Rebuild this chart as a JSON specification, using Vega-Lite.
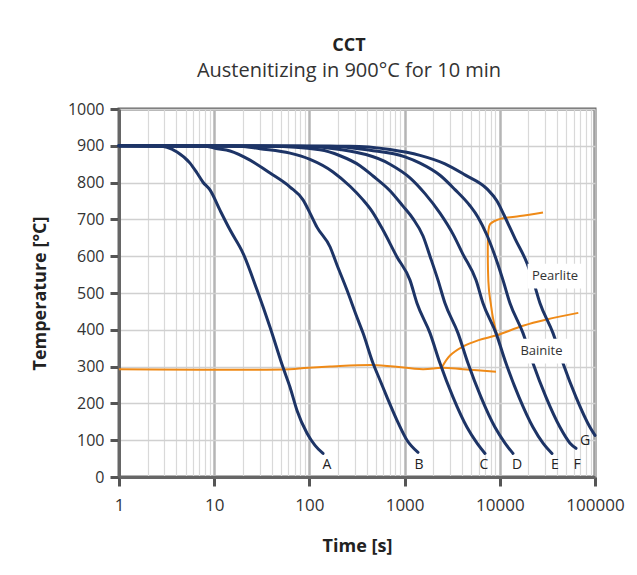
{
  "$schema": "https://vega.github.io/schema/vega-lite/v6.json",
  "width": 476,
  "height": 368,
  "autosize": {"type": "none"},
  "padding": {"left": 119, "top": 109, "right": 42, "bottom": 98},
  "background": "white",
  "config": {
    "font": "Open Sans",
    "view": {"stroke": "#666666", "strokeWidth": 3}
  },
  "title": {
    "text": "CCT",
    "subtitle": "Austenitizing in 900°C for 10 min",
    "anchor": "middle",
    "frame": "group",
    "dx": -8,
    "font": "Open Sans",
    "subtitleFont": "Open Sans",
    "fontSize": 18,
    "fontWeight": "bold",
    "subtitleFontSize": 20,
    "color": "#222222",
    "subtitleColor": "#333333",
    "offset": 20,
    "subtitlePadding": 6
  },
  "datasets": {
    "curves": [
      {"curve": "A", "t": 1, "T": 900}, {"curve": "A", "t": 2.7, "T": 899}, {"curve": "A", "t": 3.19, "T": 896}, {"curve": "A", "t": 4.07, "T": 883}, {"curve": "A", "t": 5.57, "T": 853}, {"curve": "A", "t": 6.6, "T": 826}, {"curve": "A", "t": 7.63, "T": 801}, {"curve": "A", "t": 9.03, "T": 780}, {"curve": "A", "t": 11.5, "T": 725}, {"curve": "A", "t": 14.7, "T": 671}, {"curve": "A", "t": 20.1, "T": 608}, {"curve": "A", "t": 28.2, "T": 508}, {"curve": "A", "t": 38.6, "T": 407}, {"curve": "A", "t": 52.8, "T": 298}, {"curve": "A", "t": 62.6, "T": 244}, {"curve": "A", "t": 74.1, "T": 181}, {"curve": "A", "t": 94.4, "T": 119}, {"curve": "A", "t": 114.5, "T": 86}, {"curve": "A", "t": 139, "T": 64},
      {"curve": "B", "t": 1, "T": 900}, {"curve": "B", "t": 8, "T": 899}, {"curve": "B", "t": 10.2, "T": 893}, {"curve": "B", "t": 14.7, "T": 886}, {"curve": "B", "t": 23.8, "T": 861}, {"curve": "B", "t": 38.6, "T": 826}, {"curve": "B", "t": 62.6, "T": 788}, {"curve": "B", "t": 85.7, "T": 753}, {"curve": "B", "t": 101.5, "T": 717}, {"curve": "B", "t": 120, "T": 679}, {"curve": "B", "t": 165, "T": 625}, {"curve": "B", "t": 195, "T": 576}, {"curve": "B", "t": 248, "T": 508}, {"curve": "B", "t": 316, "T": 434}, {"curve": "B", "t": 366, "T": 391}, {"curve": "B", "t": 466, "T": 309}, {"curve": "B", "t": 552, "T": 263}, {"curve": "B", "t": 653, "T": 217}, {"curve": "B", "t": 832, "T": 154}, {"curve": "B", "t": 1060, "T": 100}, {"curve": "B", "t": 1383, "T": 67},
      {"curve": "C", "t": 1, "T": 900}, {"curve": "C", "t": 18.7, "T": 899}, {"curve": "C", "t": 30.3, "T": 892}, {"curve": "C", "t": 62.6, "T": 880}, {"curve": "C", "t": 101.5, "T": 863}, {"curve": "C", "t": 177, "T": 829}, {"curve": "C", "t": 267, "T": 790}, {"curve": "C", "t": 366, "T": 753}, {"curve": "C", "t": 455, "T": 722}, {"curve": "C", "t": 593, "T": 671}, {"curve": "C", "t": 832, "T": 598}, {"curve": "C", "t": 1139, "T": 535}, {"curve": "C", "t": 1350, "T": 472}, {"curve": "C", "t": 1849, "T": 391}, {"curve": "C", "t": 2354, "T": 309}, {"curve": "C", "t": 3224, "T": 217}, {"curve": "C", "t": 4524, "T": 135}, {"curve": "C", "t": 5761, "T": 92}, {"curve": "C", "t": 6991, "T": 64},
      {"curve": "D", "t": 1, "T": 900}, {"curve": "D", "t": 38.6, "T": 899}, {"curve": "D", "t": 129, "T": 889}, {"curve": "D", "t": 210, "T": 873}, {"curve": "D", "t": 340, "T": 846}, {"curve": "D", "t": 466, "T": 818}, {"curve": "D", "t": 702, "T": 778}, {"curve": "D", "t": 962, "T": 736}, {"curve": "D", "t": 1225, "T": 702}, {"curve": "D", "t": 1561, "T": 655}, {"curve": "D", "t": 1849, "T": 600}, {"curve": "D", "t": 2243, "T": 535}, {"curve": "D", "t": 2657, "T": 472}, {"curve": "D", "t": 3638, "T": 391}, {"curve": "D", "t": 4634, "T": 309}, {"curve": "D", "t": 6346, "T": 217}, {"curve": "D", "t": 8905, "T": 135}, {"curve": "D", "t": 11340, "T": 92}, {"curve": "D", "t": 13760, "T": 64},
      {"curve": "E", "t": 1, "T": 900}, {"curve": "E", "t": 79.7, "T": 899}, {"curve": "E", "t": 210, "T": 890}, {"curve": "E", "t": 702, "T": 850}, {"curve": "E", "t": 1139, "T": 813}, {"curve": "E", "t": 1638, "T": 770}, {"curve": "E", "t": 2354, "T": 717}, {"curve": "E", "t": 3224, "T": 660}, {"curve": "E", "t": 4106, "T": 605}, {"curve": "E", "t": 5623, "T": 535}, {"curve": "E", "t": 6661, "T": 472}, {"curve": "E", "t": 9122, "T": 391}, {"curve": "E", "t": 11617, "T": 309}, {"curve": "E", "t": 15910, "T": 217}, {"curve": "E", "t": 22320, "T": 135}, {"curve": "E", "t": 28430, "T": 92}, {"curve": "E", "t": 35340, "T": 64},
      {"curve": "F", "t": 1, "T": 900}, {"curve": "F", "t": 165, "T": 899}, {"curve": "F", "t": 433, "T": 888}, {"curve": "F", "t": 1010, "T": 870}, {"curve": "F", "t": 1451, "T": 853}, {"curve": "F", "t": 2354, "T": 820}, {"curve": "F", "t": 3383, "T": 781}, {"curve": "F", "t": 4864, "T": 737}, {"curve": "F", "t": 5902, "T": 706}, {"curve": "F", "t": 7337, "T": 657}, {"curve": "F", "t": 9346, "T": 585}, {"curve": "F", "t": 10803, "T": 535}, {"curve": "F", "t": 12796, "T": 472}, {"curve": "F", "t": 17530, "T": 391}, {"curve": "F", "t": 22320, "T": 309}, {"curve": "F", "t": 30570, "T": 217}, {"curve": "F", "t": 42900, "T": 135}, {"curve": "F", "t": 54630, "T": 92}, {"curve": "F", "t": 63160, "T": 78},
      {"curve": "G", "t": 1, "T": 900}, {"curve": "G", "t": 267, "T": 899}, {"curve": "G", "t": 702, "T": 890}, {"curve": "G", "t": 1451, "T": 874}, {"curve": "G", "t": 2657, "T": 851}, {"curve": "G", "t": 4310, "T": 821}, {"curve": "G", "t": 7337, "T": 783}, {"curve": "G", "t": 9346, "T": 750}, {"curve": "G", "t": 11068, "T": 712}, {"curve": "G", "t": 14446, "T": 648}, {"curve": "G", "t": 19310, "T": 581}, {"curve": "G", "t": 22320, "T": 535}, {"curve": "G", "t": 26440, "T": 472}, {"curve": "G", "t": 36220, "T": 391}, {"curve": "G", "t": 46120, "T": 309}, {"curve": "G", "t": 63160, "T": 217}, {"curve": "G", "t": 88620, "T": 135}, {"curve": "G", "t": 100000, "T": 113}
    ],
    "phases": [
      {"line": "Ms", "t": 1, "T": 293}, {"line": "Ms", "t": 62.6, "T": 293}, {"line": "Ms", "t": 88, "T": 296}, {"line": "Ms", "t": 165, "T": 300}, {"line": "Ms", "t": 513, "T": 304}, {"line": "Ms", "t": 1561, "T": 293}, {"line": "Ms", "t": 2453, "T": 297}, {"line": "Ms", "t": 4106, "T": 293}, {"line": "Ms", "t": 9122, "T": 286},
      {"line": "Bs", "t": 2453, "T": 297}, {"line": "Bs", "t": 3000, "T": 330}, {"line": "Bs", "t": 4137, "T": 355}, {"line": "Bs", "t": 6000, "T": 372}, {"line": "Bs", "t": 9277, "T": 385}, {"line": "Bs", "t": 17530, "T": 411}, {"line": "Bs", "t": 31090, "T": 428}, {"line": "Bs", "t": 66780, "T": 446},
      {"line": "Ps", "t": 9300, "T": 388}, {"line": "Ps", "t": 8483, "T": 432}, {"line": "Ps", "t": 8082, "T": 467}, {"line": "Ps", "t": 7700, "T": 508}, {"line": "Ps", "t": 7516, "T": 562}, {"line": "Ps", "t": 7607, "T": 671}, {"line": "Ps", "t": 7900, "T": 687}, {"line": "Ps", "t": 8700, "T": 695}, {"line": "Ps", "t": 10803, "T": 703}, {"line": "Ps", "t": 16300, "T": 709}, {"line": "Ps", "t": 28430, "T": 719}
    ],
    "labels": [
      {"label": "A", "t": 153, "T": 32}, {"label": "B", "t": 1417, "T": 32}, {"label": "C", "t": 6823, "T": 32}, {"label": "D", "t": 15160, "T": 32}, {"label": "E", "t": 37990, "T": 32}, {"label": "F", "t": 64700, "T": 32}, {"label": "G", "t": 78520, "T": 97}
    ],
    "regions": [
      {"name": "Pearlite", "t": 38000, "T": 546},
      {"name": "Bainite", "t": 27420, "T": 342}
    ]
  },
  "encoding": {
    "x": {
      "field": "t", "type": "quantitative",
      "scale": {"type": "log", "domain": [1, 100000]},
      "axis": {
        "values": [1,2,3,4,5,6,7,8,9,10,20,30,40,50,60,70,80,90,100,200,300,400,500,600,700,800,900,1000,2000,3000,4000,5000,6000,7000,8000,9000,10000,20000,30000,40000,50000,60000,70000,80000,90000,100000],
        "labelExpr": "indexof([1,10,100,1000,10000,100000], datum.value) >= 0 ? format(datum.value, 'd') : ''",
        "labelOverlap": false,
        "labelFlush": false,
        "gridColor": {"condition": {"test": "indexof([1,10,100,1000,10000,100000], datum.value) >= 0", "value": "#b5b5b5"}, "value": "#d9d9d9"},
        "gridWidth": {"condition": {"test": "indexof([1,10,100,1000,10000,100000], datum.value) >= 0", "value": 2.5}, "value": 1.2},
        "tickOpacity": {"condition": {"test": "indexof([1,10,100,1000,10000,100000], datum.value) >= 0", "value": 1}, "value": 0},
        "tickSize": 9, "tickWidth": 3, "tickColor": "#555555",
        "domainColor": "#666666", "domainWidth": 3,
        "labelFontSize": 17, "labelColor": "#333333", "labelPadding": 11,
        "title": "Time [s]", "titleFontSize": 18, "titleFontWeight": "bold", "titleColor": "#222222", "titlePadding": 24
      }
    },
    "y": {
      "field": "T", "type": "quantitative",
      "scale": {"domain": [0, 1000], "nice": false},
      "axis": {
        "values": [0,100,200,300,400,500,600,700,800,900,1000],
        "format": "d",
        "labelOverlap": false,
        "tickSize": 9, "tickWidth": 3, "tickColor": "#555555",
        "gridColor": "#d0d0d0", "gridWidth": 1.5,
        "domainColor": "#666666", "domainWidth": 3,
        "labelFontSize": 16, "labelColor": "#333333", "labelPadding": 6,
        "title": "Temperature [°C]", "titleFontSize": 18, "titleFontWeight": "bold", "titleColor": "#222222", "titlePadding": 18
      }
    }
  },
  "layer": [
    {
      "data": {"name": "phases"},
      "mark": {"type": "line", "color": "#ef8a17", "strokeWidth": 2, "interpolate": "catmull-rom"},
      "encoding": {
        "detail": {"field": "line"},
        "order": {"value": null}
      }
    },
    {
      "data": {"name": "curves"},
      "mark": {"type": "line", "color": "#1d3466", "strokeWidth": 3, "strokeCap": "round", "strokeJoin": "round", "interpolate": "monotone"},
      "encoding": {
        "detail": {"field": "curve"}
      }
    },
    {
      "data": {"name": "regions"},
      "mark": {"type": "point", "shape": "M-1,-0.45H1V0.45H-1Z", "filled": true, "color": "white", "opacity": 1, "strokeWidth": 0, "size": 3000},
      "encoding": {}
    },
    {
      "data": {"name": "regions"},
      "mark": {"type": "text", "fontSize": 13, "color": "#333333", "baseline": "middle", "align": "center"},
      "encoding": {
        "text": {"field": "name"}
      }
    },
    {
      "data": {"name": "labels"},
      "mark": {"type": "text", "fontSize": 14, "color": "#222222", "baseline": "middle", "align": "center"},
      "encoding": {
        "text": {"field": "label"}
      }
    }
  ]
}
